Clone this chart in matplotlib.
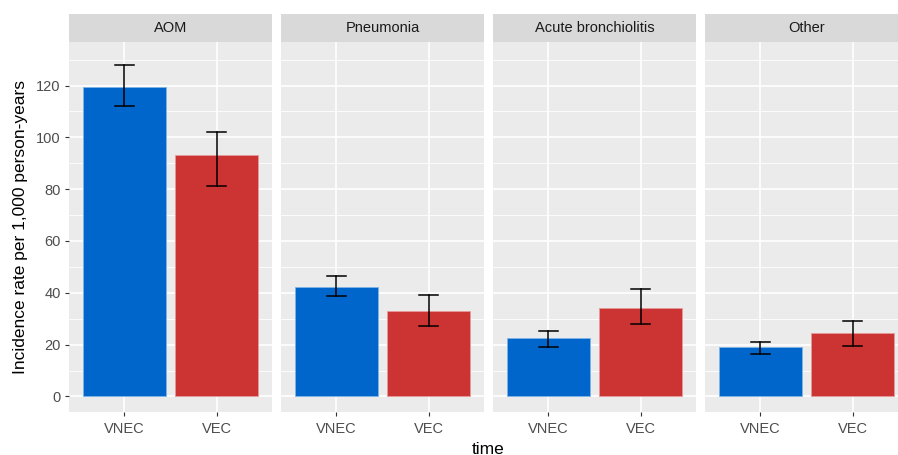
import numpy as np
import matplotlib
matplotlib.use("Agg")
import matplotlib.pyplot as plt

plt.rcParams['font.family'] = ['Liberation Sans', 'DejaVu Sans']

# ---- データ ----
panels = ["AOM", "Pneumonia", "Acute bronchiolitis", "Other"]
times = ["VNEC", "VEC"]
vnec_rate = [119.5, 42.2, 22.4, 19.0]
vnec_lo = [112.0, 38.6, 19.0, 16.4]
vnec_hi = [128.0, 46.4, 25.4, 21.2]
vec_rate = [93.0, 32.9, 34.3, 24.3]
vec_lo = [81.2, 27.1, 27.9, 19.4]
vec_hi = [102.0, 39.0, 41.3, 29.3]
colors = ["#0066cc", "#cc3333"]
edges = ["#80b3e6", "#e69999"]

# ---- レイアウト（ピクセル単位）----
W, H = 898, 455
fig = plt.figure(figsize=(W/100, H/100), dpi=100)
fig.patch.set_facecolor("white")

lefts = [69, 281, 493, 705]
pw = 203
top_px, bot_px = 42, 412
strip_top = 13.5
ylo, yhi = -6.0, 136.8

for i, name in enumerate(panels):
    ax = fig.add_axes([lefts[i]/W, 1-bot_px/H, pw/W, (bot_px-top_px)/H])
    ax.set_facecolor("#ebebeb")
    for s in ax.spines.values():
        s.set_visible(False)
    ax.set_xlim(0.4, 2.6)
    ax.set_ylim(ylo, yhi)
    # grid
    for y in np.arange(10, 140, 20):
        ax.axhline(y, color="white", lw=0.6, zorder=0)
    for y in np.arange(0, 140, 20):
        ax.axhline(y, color="white", lw=1.2, zorder=0)
    for x in [1, 2]:
        ax.axvline(x, color="white", lw=1.2, zorder=0)

    rates = [vnec_rate[i], vec_rate[i]]
    los = [vnec_lo[i], vec_lo[i]]
    his = [vnec_hi[i], vec_hi[i]]
    ax.bar([1, 2], rates, width=0.9, color=colors, edgecolor=edges, lw=0.6, zorder=2)
    for x, lo, hi in zip([1, 2], los, his):
        ax.plot([x, x], [lo, hi], color="black", lw=1.1, zorder=3)
        ax.plot([x-0.1, x+0.1], [lo, lo], color="black", lw=1.1, zorder=3)
        ax.plot([x-0.1, x+0.1], [hi, hi], color="black", lw=1.1, zorder=3)

    ax.set_xticks([1, 2])
    ax.set_xticklabels(times, fontsize=10.5, color="#4d4d4d")
    ax.tick_params(axis="x", length=3, color="#333333", pad=4)
    if i == 0:
        ax.set_yticks(np.arange(0, 140, 20))
        ax.set_yticklabels([str(v) for v in np.arange(0, 140, 20)], fontsize=10.5, color="#4d4d4d")
        ax.tick_params(axis="y", length=3, color="#333333", pad=3)
        ax.set_ylabel("Incidence rate per 1,000 person-years", fontsize=12.5, labelpad=6)
    else:
        ax.set_yticks([])

    # strip
    sax = fig.add_axes([lefts[i]/W, 1-top_px/H, pw/W, (top_px-strip_top)/H])
    sax.set_facecolor("#d9d9d9")
    sax.set_xticks([])
    sax.set_yticks([])
    for s in sax.spines.values():
        s.set_visible(False)
    sax.text(0.5, 0.5, name, ha="center", va="center", fontsize=10.5, color="#1a1a1a",
             transform=sax.transAxes)

fig.text((lefts[0]+lefts[3]+pw)/2/W, 1-449/H, "time", ha="center", va="center", fontsize=12.5)

fig.savefig("out.png", dpi=100)
